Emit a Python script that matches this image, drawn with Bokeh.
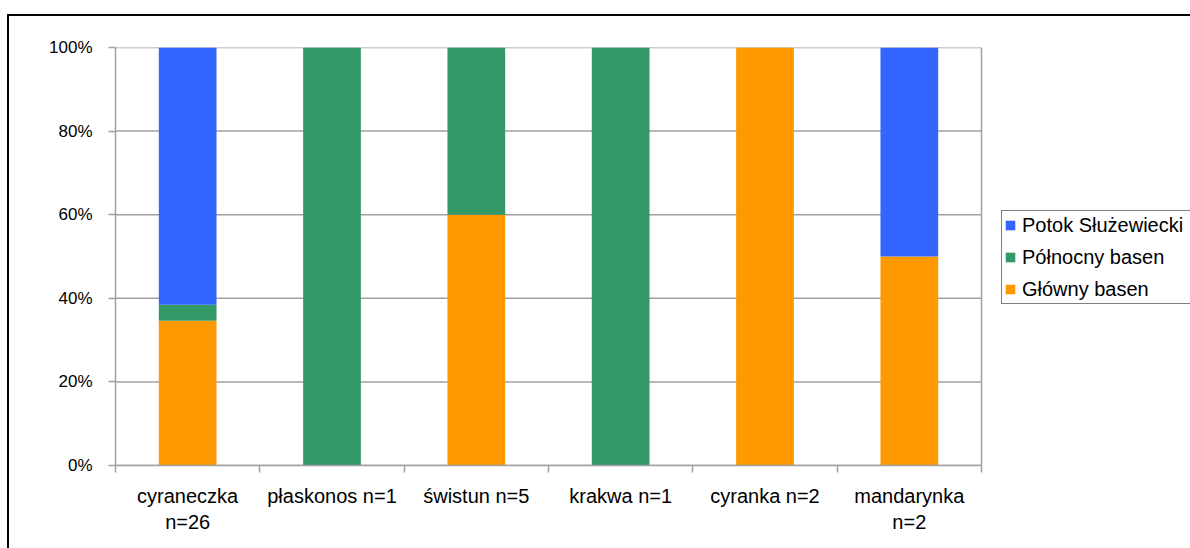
from bokeh.plotting import figure
from bokeh.models import (Range1d, FixedTicker, PrintfTickFormatter, Legend,
                          LegendItem, InlineStyleSheet)
from bokeh.embed import file_html
from bokeh.resources import INLINE

# Duck species observed, with the number of birds per water body
species = ["cyraneczka\nn=26", "płaskonos n=1", "świstun n=5",
           "krakwa n=1", "cyranka n=2", "mandarynka\nn=2"]
glowny_basen = [9, 0, 3, 0, 2, 1]
polnocny_basen = [1, 1, 2, 1, 0, 0]
potok_sluzewiecki = [16, 0, 0, 0, 0, 1]

series_names = ["Główny basen", "Północny basen", "Potok Służewiecki"]
series_colors = ["#FF9900", "#339966", "#3366FF"]
y_ticks = [0, 20, 40, 60, 80, 100]

FONT = "Liberation Sans"
GRID = "#A0A0A0"

# page geometry (pixels)
W, H = 1190, 548
LEFT, TOP, BOTTOM = 115, 47, 83
PLOT_W = 866          # width of the bar area; the legend sits to its right

n = len(species)
totals = [a + b + c for a, b, c in zip(glowny_basen, polnocny_basen, potok_sluzewiecki)]
shares = [[100.0 * v / t for v, t in zip(s, totals)]
          for s in (glowny_basen, polnocny_basen, potok_sluzewiecki)]
centers = [i + 0.5 for i in range(n)]

data = {"x": centers}
keys = ["g", "p", "s"]
for k, s in zip(keys, shares):
    data[k] = s

# the frame runs to the right edge so the legend can sit beside the bars
x_end = n * (W - LEFT) / PLOT_W
p = figure(width=W, height=H, output_backend="svg", toolbar_location=None,
           x_range=Range1d(0, x_end), y_range=Range1d(0, 100),
           min_border_left=LEFT, min_border_right=0,
           min_border_top=TOP, min_border_bottom=BOTTOM)
p.background_fill_color = "white"
p.border_fill_color = "white"
p.outline_line_color = None

# horizontal gridlines and right border of the bar area
p.segment(x0=0, x1=n, y0=y_ticks, y1=y_ticks, line_color=GRID, line_width=1.5)
p.segment(x0=n, x1=n, y0=y_ticks[0], y1=y_ticks[-1], line_color=GRID, line_width=1.5)

renderers = p.vbar_stack(keys, x="x", width=0.4, source=data,
                         color=series_colors, line_color=None)

# axes
p.xaxis.bounds = (0, n)
p.xaxis.ticker = FixedTicker(ticks=centers, minor_ticks=list(range(n + 1)))
p.xaxis.major_label_overrides = {c: s for c, s in zip(centers, species)}
p.xaxis.major_tick_out = 0
p.xaxis.major_tick_in = 0
p.xaxis.minor_tick_out = 7
p.xaxis.minor_tick_in = 0
p.xaxis.minor_tick_line_color = GRID
p.xaxis.minor_tick_line_width = 1.5
p.xaxis.major_label_standoff = 12
p.xaxis.major_label_text_font_size = "20px"

p.yaxis.ticker = FixedTicker(ticks=y_ticks, minor_ticks=[])
p.yaxis.formatter = PrintfTickFormatter(format="%d%%")
p.yaxis.major_tick_out = 7
p.yaxis.major_tick_in = 0
p.yaxis.major_tick_line_color = GRID
p.yaxis.major_tick_line_width = 1.5
p.yaxis.major_label_standoff = 16
p.yaxis.major_label_text_font_size = "17px"

for ax in (p.xaxis, p.yaxis):
    ax.axis_line_color = GRID
    ax.axis_line_width = 1.5
    ax.major_label_text_font = FONT
    ax.major_label_text_color = "black"

p.xgrid.visible = False
p.ygrid.visible = False

# legend, top entry first; its box runs past the right edge
items = [LegendItem(label=lbl, renderers=[r])
         for lbl, r in zip(series_names, renderers)][::-1]
legend = Legend(items=items, location=(PLOT_W + 20, 161), margin=0,
                glyph_width=12, glyph_height=12, label_standoff=6,
                label_text_font=FONT, label_text_font_size="20px",
                label_text_color="black", label_width=200,
                label_height=24, spacing=8, padding=2,
                border_line_color="black", border_line_width=1,
                background_fill_color="white", background_fill_alpha=1)
p.add_layout(legend)

# outer chart frame, running off the right and bottom edges
p.stylesheets = [InlineStyleSheet(css="""
:host { position: relative; }
:host::after {
  content: "";
  position: absolute;
  left: 7px; top: 14px; right: 0; bottom: 0;
  border-left: 2px solid black;
  border-top: 2px solid black;
  pointer-events: none;
}
""")]

open("out.html", "w").write(file_html(p, INLINE))
